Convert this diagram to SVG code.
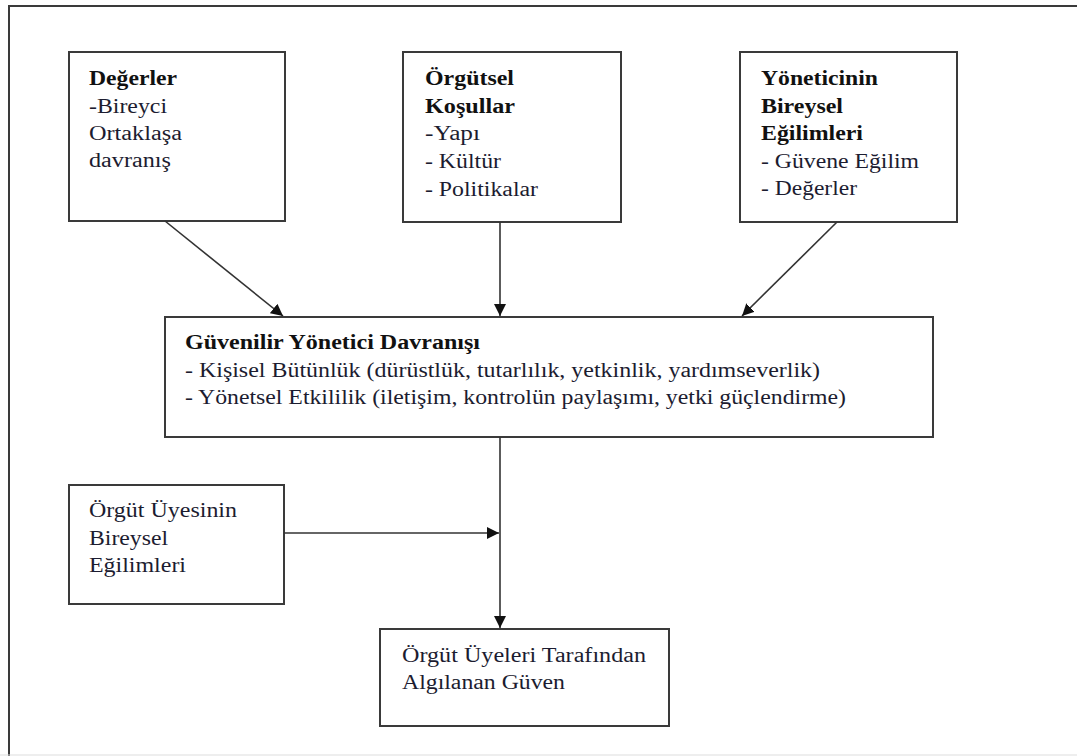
<svg xmlns="http://www.w3.org/2000/svg" width="1077" height="756" viewBox="0 0 1077 756">
  <defs>
    <marker id="arrow" viewBox="0 0 12 12" refX="12" refY="6" markerWidth="12" markerHeight="12" markerUnits="userSpaceOnUse" orient="auto">
      <path d="M0,0 L12,6 L0,12 Z" fill="#111"/>
    </marker>
    <style>
      .box { fill: #fff; stroke: #3a3a3a; stroke-width: 2; }
      .frame { fill: none; stroke: #3a3a3a; stroke-width: 2; }
      .link { fill: none; stroke: #333; stroke-width: 1.6; marker-end: url(#arrow); }
      .t { font-size: 20px; fill: #1c1c30; }
      .b { font-weight: bold; fill: #111; }
    </style>
  </defs>

  <rect width="1077" height="756" fill="#fff"/>
  <!-- page frame -->
  <path class="frame" d="M9,756 V6 H1077"/>
  <line x1="0" y1="755" x2="1077" y2="755" stroke="#ddd" stroke-width="1"/>

  <g font-family="Liberation Serif, Tinos, DejaVu Serif, serif" class="t">
    <g id="degerler">
      <rect class="box" x="69" y="52" width="216" height="169"/>
      <text x="89" y="85" class="b" textLength="88" lengthAdjust="spacingAndGlyphs">Değerler</text>
      <text x="89" y="113" textLength="78" lengthAdjust="spacingAndGlyphs">-Bireyci</text>
      <text x="89" y="140" textLength="93" lengthAdjust="spacingAndGlyphs">Ortaklaşa</text>
      <text x="89" y="167" textLength="82" lengthAdjust="spacingAndGlyphs">davranış</text>
    </g>

    <g id="orgutsel-kosullar">
      <rect class="box" x="403" y="52" width="218" height="170"/>
      <text x="425" y="85" class="b" textLength="89" lengthAdjust="spacingAndGlyphs">Örgütsel</text>
      <text x="425" y="113" class="b" textLength="90" lengthAdjust="spacingAndGlyphs">Koşullar</text>
      <text x="425" y="140" textLength="55" lengthAdjust="spacingAndGlyphs">-Yapı</text>
      <text x="425" y="168" textLength="76" lengthAdjust="spacingAndGlyphs">- Kültür</text>
      <text x="425" y="196" textLength="113" lengthAdjust="spacingAndGlyphs">- Politikalar</text>
    </g>

    <g id="yonetici-egilimleri">
      <rect class="box" x="740" y="52" width="217" height="170"/>
      <text x="761" y="85" class="b" textLength="117" lengthAdjust="spacingAndGlyphs">Yöneticinin</text>
      <text x="761" y="113" class="b" textLength="82" lengthAdjust="spacingAndGlyphs">Bireysel</text>
      <text x="761" y="140" class="b" textLength="102" lengthAdjust="spacingAndGlyphs">Eğilimleri</text>
      <text x="761" y="168" textLength="158" lengthAdjust="spacingAndGlyphs">- Güvene Eğilim</text>
      <text x="761" y="195" textLength="96" lengthAdjust="spacingAndGlyphs">- Değerler</text>
    </g>

    <g id="guvenilir-davranis">
      <rect class="box" x="165" y="317" width="768" height="120"/>
      <text x="185" y="349" class="b" textLength="295" lengthAdjust="spacingAndGlyphs">Güvenilir Yönetici Davranışı</text>
      <text x="185" y="377" textLength="635" lengthAdjust="spacingAndGlyphs">- Kişisel Bütünlük (dürüstlük, tutarlılık, yetkinlik, yardımseverlik)</text>
      <text x="185" y="404" textLength="661" lengthAdjust="spacingAndGlyphs">- Yönetsel Etkililik (iletişim, kontrolün paylaşımı, yetki güçlendirme)</text>
    </g>

    <g id="uye-egilimleri">
      <rect class="box" x="69" y="485" width="215" height="119"/>
      <text x="89" y="517" textLength="148" lengthAdjust="spacingAndGlyphs">Örgüt Üyesinin</text>
      <text x="89" y="545" textLength="79" lengthAdjust="spacingAndGlyphs">Bireysel</text>
      <text x="89" y="572" textLength="97" lengthAdjust="spacingAndGlyphs">Eğilimleri</text>
    </g>

    <g id="algilanan-guven">
      <rect class="box" x="380" y="629" width="289" height="97"/>
      <text x="402" y="662" textLength="244" lengthAdjust="spacingAndGlyphs">Örgüt Üyeleri Tarafından</text>
      <text x="402" y="689" textLength="163" lengthAdjust="spacingAndGlyphs">Algılanan Güven</text>
    </g>
  </g>

  <g id="connectors">
    <line class="link" x1="165" y1="221" x2="283" y2="316"/>
    <line class="link" x1="500" y1="222" x2="500" y2="316"/>
    <line class="link" x1="837" y1="222" x2="742" y2="316"/>
    <line class="link" x1="500" y1="437" x2="500" y2="628"/>
    <line class="link" x1="284" y1="533" x2="499" y2="533"/>
  </g>
</svg>
